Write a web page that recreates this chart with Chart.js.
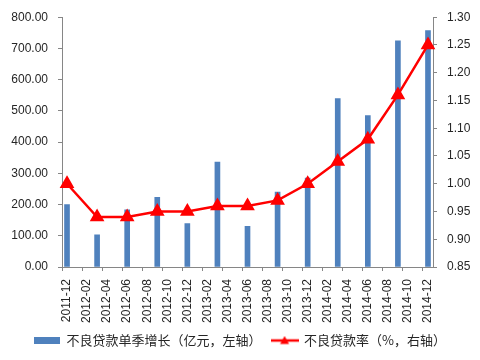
<!DOCTYPE html>
<html>
<head>
<meta charset="utf-8">
<script src="https://cdn.jsdelivr.net/npm/chart.js@4"></script>
<style>
html,body{margin:0;padding:0;background:#fff;}
#wrap{width:480px;height:360px;position:relative;}
</style>
</head>
<body>
<div id="wrap"><canvas id="c" width="480" height="360"></canvas></div>
<script>
const months = ['2011-12','2012-01','2012-02','2012-03','2012-04','2012-05','2012-06','2012-07','2012-08','2012-09','2012-10','2012-11','2012-12',
  '2013-01','2013-02','2013-03','2013-04','2013-05','2013-06','2013-07','2013-08','2013-09','2013-10','2013-11','2013-12',
  '2014-01','2014-02','2014-03','2014-04','2014-05','2014-06','2014-07','2014-08','2014-09','2014-10','2014-11','2014-12'];
const quarters = ['2011-12','2012-03','2012-06','2012-09','2012-12','2013-03','2013-06','2013-09','2013-12','2014-03','2014-06','2014-09','2014-12'];
const nplGrowth = [200,103,183,223,139,336,130,240,285,539,485,724,757];
const nplRatio = [1.00,0.94,0.94,0.95,0.95,0.96,0.96,0.97,1.00,1.04,1.08,1.16,1.25];
const leftTicks = [0,100,200,300,400,500,600,700,800];
const rightTicks = [0.85,0.90,0.95,1.00,1.05,1.10,1.15,1.20,1.25,1.30];

const barColor = '#4F81BD';
const lineColor = '#FF0000';
const axisColor = '#868686';
const textColor = '#262626';

function barIcon(){
  const c = document.createElement('canvas'); c.width = 26; c.height = 7;
  const g = c.getContext('2d'); g.fillStyle = barColor; g.fillRect(0,0,26,7); return c;
}
function lineIcon(){
  const c = document.createElement('canvas'); c.width = 28; c.height = 10;
  const g = c.getContext('2d');
  g.strokeStyle = lineColor; g.lineWidth = 2.5;
  g.beginPath(); g.moveTo(0,5); g.lineTo(28,5); g.stroke();
  g.fillStyle = lineColor; g.beginPath(); g.moveTo(14,0.5); g.lineTo(18.5,8.5); g.lineTo(9.5,8.5); g.closePath(); g.fill();
  return c;
}

new Chart(document.getElementById('c'), {
  data: {
    labels: months,
    datasets: [
      {
        type: 'line',
        label: '不良贷款率（%，右轴）',
        data: quarters.map((q,i)=>({x:q, y:nplRatio[i]})),
        yAxisID: 'y1',
        borderColor: lineColor,
        backgroundColor: lineColor,
        borderWidth: 2.5,
        pointStyle: 'triangle',
        pointRadius: 6,
        pointBackgroundColor: lineColor,
        pointBorderColor: lineColor,
        tension: 0,
        order: 0
      },
      {
        type: 'bar',
        label: '不良贷款单季增长（亿元，左轴）',
        data: quarters.map((q,i)=>({x:q, y:nplGrowth[i]})),
        yAxisID: 'y',
        backgroundColor: barColor,
        barThickness: 5,
        order: 1
      }
    ]
  },
  options: {
    responsive: false,
    animation: false,
    layout: { padding: { top: 15, left: 0, right: 0, bottom: 3 } },
    plugins: {
      tooltip: { enabled: false },
      legend: {
        position: 'bottom',
        labels: {
          usePointStyle: true,
          font: { family: '"Noto Sans CJK SC", sans-serif', size: 13 },
          color: textColor,
          padding: 10,
          generateLabels: (chart) => [
            { text: '不良贷款单季增长（亿元，左轴）', pointStyle: barIcon(), datasetIndex: 1, fillStyle: barColor, strokeStyle: barColor, lineWidth: 0, fontColor: textColor },
            { text: '不良贷款率（%，右轴）', pointStyle: lineIcon(), datasetIndex: 0, fillStyle: lineColor, strokeStyle: lineColor, lineWidth: 0, fontColor: textColor }
          ],
          pointStyleWidth: 26
        }
      }
    },
    scales: {
      x: {
        type: 'category',
        offset: true,
        grid: {
          offset: true,
          drawOnChartArea: false,
          drawTicks: true,
          tickLength: 4,
          color: (ctx) => (ctx.index % 2 === 0 ? axisColor : 'rgba(0,0,0,0)')
        },
        border: { color: axisColor, width: 1 },
        ticks: {
          autoSkip: false,
          maxRotation: 90,
          minRotation: 90,
          padding: 8,
          color: textColor,
          font: { family: '"Liberation Sans", Arial, sans-serif', size: 12 },
          callback: function(v, i) { return i % 2 === 0 ? months[i] : ''; }
        },
        afterFit: (s) => { s.height = 57; }
      },
      y: {
        position: 'left',
        min: 0, max: 800,
        afterBuildTicks: (s) => { s.ticks = leftTicks.map(v => ({value: v})); },
        grid: { drawOnChartArea: false, drawTicks: true, tickLength: 4, color: axisColor },
        border: { color: axisColor, width: 1 },
        ticks: {
          padding: 10,
          color: textColor,
          font: { family: '"Liberation Sans", Arial, sans-serif', size: 12 },
          callback: (v) => Number(v).toFixed(2)
        },
        afterFit: (s) => { s.width = 62; }
      },
      y1: {
        position: 'right',
        min: 0.85, max: 1.30,
        afterBuildTicks: (s) => { s.ticks = rightTicks.map(v => ({value: v})); },
        grid: { drawOnChartArea: false, drawTicks: true, tickLength: 4, color: axisColor },
        border: { color: axisColor, width: 1 },
        ticks: {
          padding: 10,
          color: textColor,
          font: { family: '"Liberation Sans", Arial, sans-serif', size: 12 },
          callback: (v) => Number(v).toFixed(2)
        },
        afterFit: (s) => { s.width = 47; }
      }
    }
  }
});
</script>
</body>
</html>
